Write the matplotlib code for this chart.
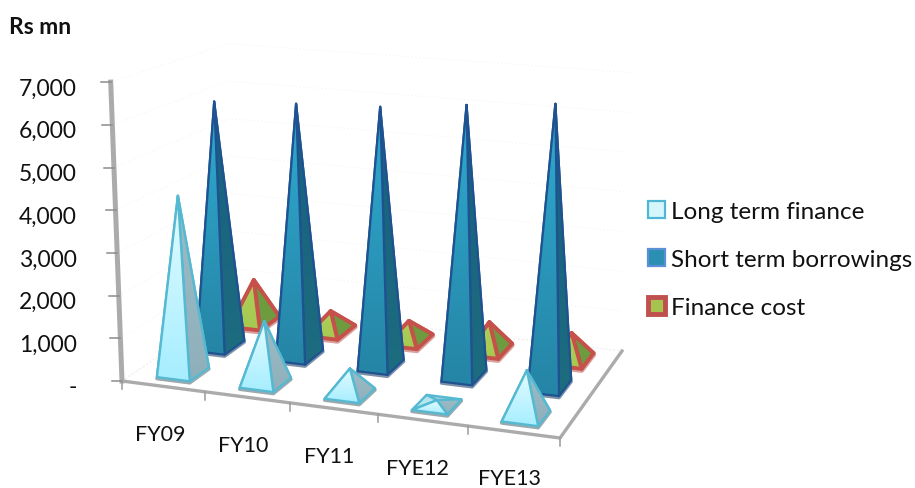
import numpy as np
import matplotlib
matplotlib.use("Agg")
import matplotlib.pyplot as plt
from matplotlib.patches import Patch, Polygon
from matplotlib.colors import LinearSegmentedColormap

plt.rcParams['font.family'] = ['Lato', 'DejaVu Sans']

categories = ['FY09', 'FY10', 'FY11', 'FYE12', 'FYE13']
long_term_finance = [4200, 1450, 580, 100, 1030]
short_term_borrowings = [6080, 6190, 6280, 6490, 6680]
finance_cost = [1080, 500, 480, 680, 640]
value_ticks = [0, 1000, 2000, 3000, 4000, 5000, 6000, 7000]
series_names = ['Long term finance', 'Short term borrowings', 'Finance cost']

W, H = 915, 489
# floor of the 3D box, in pixels
FL, FR, BR, BL = (122, 382), (560, 439), (622, 352), (234, 307)
PX_PER_UNIT = 42.7 / 1000
LEAN = 5.8e-6


def homography(pts):
    src = [(0, 0), (1, 0), (1, 1), (0, 1)]
    A, b = [], []
    for (u, v), (x, y) in zip(src, pts):
        A.append([u, v, 1, 0, 0, 0, -u * x, -v * x]); b.append(x)
        A.append([0, 0, 0, u, v, 1, -u * y, -v * y]); b.append(y)
    return np.append(np.linalg.solve(np.array(A, float), np.array(b, float)), 1).reshape(3, 3)


HM = homography([FL, FR, BR, BL])


def project(cat, ser, val=0.0):
    u, v = cat / len(categories), ser / 3
    X, Y, Z = HM @ np.array([u, v, 1.0])
    x, y = X / Z, Y / Z
    return x + (x - 400) * LEAN * val, y - PX_PER_UNIT * val / Z


fig = plt.figure(figsize=(W / 100, H / 100), dpi=100)
ax = fig.add_axes([0, 0, 1, 1])
ax.set_axis_off()


def gradient_poly(pts, top, bottom, zorder):
    pts = np.array(pts)
    cmap = LinearSegmentedColormap.from_list('g', [top, bottom])
    x0, x1, y0, y1 = pts[:, 0].min(), pts[:, 0].max(), pts[:, 1].min(), pts[:, 1].max()
    im = ax.imshow(np.linspace(0, 1, 64).reshape(-1, 1), cmap=cmap, aspect='auto',
                   extent=(x0, x1, y1, y0), zorder=zorder, interpolation='bilinear')
    im.set_clip_path(Polygon(pts, closed=True, transform=ax.transData))


def pyramid(i, j, value, st, z):
    c, s = i + 0.5, j + 0.5
    hw, hd = st['hw'], st['hd']
    a = project(c, s, value)
    fl, fr = project(c - hw, s - hd), project(c + hw, s - hd)
    br, bl = project(c + hw, s + hd), project(c - hw, s + hd)
    faces = [([bl, br, a], st['back'], st['back']),
             ([fl, bl, a], st['left'], st['left']),
             ([fr, br, a], st['side_t'], st['side_b']),
             ([fl, fr, a], st['front_t'], st['front_b'])]
    for k, (pts, t, b) in enumerate(faces):
        gradient_poly(pts, t, b, z + k * 0.01)
        ax.add_patch(Polygon(pts, closed=True, fill=False, ec=st['edge'], lw=st['lw'],
                             joinstyle='round', zorder=z + k * 0.01 + 0.005))
    # soft shadow line under the base
    sh = [(p[0], p[1] + 1.5) for p in (fl, fr, br)]
    ax.plot(*zip(*sh), color=st['shadow'], lw=st['lw'] + 0.8, zorder=z - 0.01,
            solid_capstyle='round')


# faint wall gridlines
for v in value_ticks:
    p = [project(0, 0, v), project(0, 3, v), project(5, 3, v)]
    ax.plot(*zip(*p), color='#F6F6F6', lw=0.9, ls=(0, (1, 2)), zorder=1)
ax.plot(*zip(project(0, 0), project(0, 3), project(5, 3)), color='#EEEEEE', lw=1, ls=(0, (1, 2)), zorder=1)

# axis lines and ticks
AX = '#ABABAB'
ax.plot(*zip(project(0, 0, 0), project(0, 0, 7000)), color=AX, lw=3.6, zorder=2)
ax.plot(*zip(project(0, 0), project(5, 0), project(5, 3)), color=AX, lw=2.4, zorder=2)
for v in value_ticks:
    x, y = project(0, 0, v)
    ax.plot([x - 10, x], [y, y], color='#8C8C8C', lw=1.1, zorder=2)
for i in range(len(categories) + 1):
    x, y = project(i, 0)
    ax.plot([x, x], [y, y + 8], color='#9A9A9A', lw=1.1, zorder=2)

styles = {
    'long': dict(hw=0.20, hd=0.25, front_t='#E4FBFF', front_b='#A6EEFF', side_t='#9CBBC5', side_b='#8FB0BB',
                 left='#B5E6F0', back='#A9D3DE', edge='#55B9D2', lw=1.7, shadow='#9AA9AE'),
    'short': dict(hw=0.18, hd=0.28, front_t='#2FAAD0', front_b='#2585A6', side_t='#17607F', side_b='#1D6C80',
                  left='#1F6F8F', back='#1F6F8F', edge='#1F5290', lw=1.6, shadow='#7C90A8'),
    'cost': dict(hw=0.20, hd=0.30, front_t='#AECF5C', front_b='#A6C950', side_t='#6E9B3F', side_b='#6E9B3F',
                 left='#8DB34C', back='#8DB34C', edge='#C6504A', lw=2.8, shadow='#D9A19D'),
}
for j, (vals, key) in reversed(list(enumerate(zip(
        [long_term_finance, short_term_borrowings, finance_cost], ['long', 'short', 'cost'])))):
    for i, v in enumerate(vals):
        pyramid(i, j, v, styles[key], 10 + (2 - j) * 10 + i)

# category labels follow the front edge
label_x = [160, 243, 329, 417, 510]
label_y = [435, 446, 457, 469, 479]
for name, x, y in zip(categories, label_x, label_y):
    ax.text(x, y, name, ha='center', va='center', fontsize=15.5, color='#111111')

ax.text(9, 27, 'Rs mn', ha='left', va='center', fontsize=16.5, fontweight='bold', color='#111111')

ax.set_xlim(0, W)
ax.set_ylim(H, 0)

# value axis
vax = fig.add_axes([77 / W, 1 - 386 / H, 1 / W, 299 / H])
vax.patch.set_alpha(0)
vax.set_ylim(0, 7000)
vax.set_yticks(value_ticks)
vax.set_yticklabels(['-' if v == 0 else f'{v:,}' for v in value_ticks], fontsize=16.5, color='#111111')
vax.set_xticks([])
vax.tick_params(axis='y', length=0, pad=0)
for sp in vax.spines.values():
    sp.set_visible(False)

# legend
handles = [Patch(fc='#D6F6FC', ec='#4FB7D3', lw=1.6),
           Patch(fc='#2A8FB2', ec='#5B8FD6', lw=1.6),
           Patch(fc='#A6C24F', ec='#C0504D', lw=3.5)]
fig.legend(handles, series_names, loc='upper left', bbox_to_anchor=(648 / W, 1 - 202 / H),
           frameon=False, fontsize=17.5, handlelength=0.7, handleheight=0.7, handletextpad=0.26,
           labelspacing=1.12, borderpad=0, borderaxespad=0, labelcolor='#111111')

fig.savefig('out.png', dpi=100)
